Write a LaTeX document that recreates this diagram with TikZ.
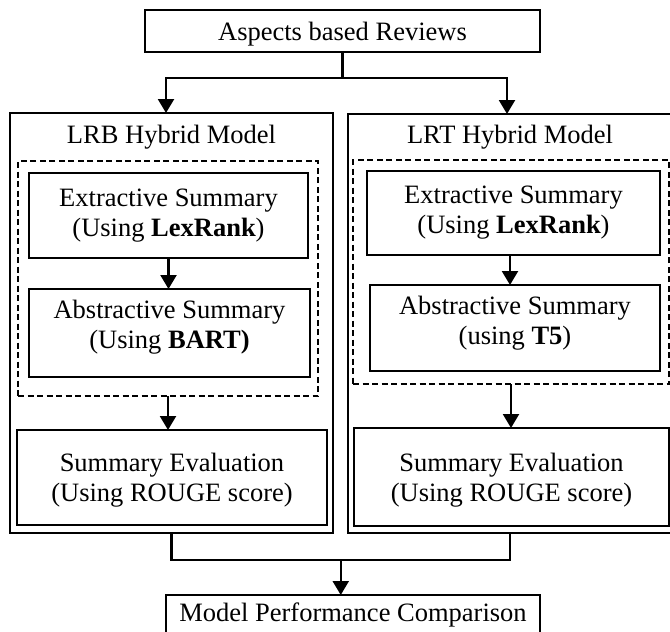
\documentclass[tikz,border=0pt]{standalone}
\usepackage{fontspec}
\setmainfont{Liberation Serif}
\usetikzlibrary{arrows.meta, positioning}

\tikzset{
  block/.style={draw, line width=2.6pt, align=center, inner sep=0pt, outer sep=0pt},
  model/.style={draw, line width=2.3pt, inner sep=0pt, outer sep=0pt},
  group/.style={draw, line width=2pt, dash pattern=on 6pt off 3.5pt, inner sep=0pt, outer sep=0pt},
  link/.style={line width=2.2pt},
}

\begin{document}
\begin{tikzpicture}[x=1pt, y=-1pt, >={Triangle[width=16pt,length=14pt]},
    font=\fontsize{26.5}{30}\selectfont]
  \useasboundingbox (0,0) rectangle (670,632);

  % input and final comparison
  \node[block, minimum width=395pt, minimum height=42pt, text depth=0pt] (rev) at (342.5,31) {Aspects based Reviews};
  \node[block, minimum width=374pt, minimum height=40pt] (cmp) at (353,615) {Model Performance Comparison};

  % the two hybrid models
  \node[model, minimum width=323pt, minimum height=420pt] (lrb) at (171.5,323) {};
  \node[model, minimum width=324pt, minimum height=419pt] (lrt) at (510,323.5) {};
  \node[anchor=base] (lrbtitle) at (171.5,143) {LRB Hybrid Model};
  \node[anchor=base] (lrttitle) at (510,143) {LRT Hybrid Model};

  % LexRank + BART
  \node[group, minimum width=300pt, minimum height=235pt] (lgrp) at (168,278.5) {};
  \node[block, minimum width=279pt, minimum height=85pt] (lext) at (168.5,215.5) {Extractive Summary\\(Using \textbf{LexRank})};
  \node[block, minimum width=281pt, minimum height=88pt, text depth=17pt] (labs) at (169.5,333) {Abstractive Summary\\(Using \textbf{BART)}};
  \node[block, minimum width=310pt, minimum height=95pt, text depth=-2pt] (leval) at (172,477.5) {Summary Evaluation\\(Using ROUGE score)};

  % LexRank + T5
  \node[group, minimum width=316pt, minimum height=224pt] (rgrp) at (511,272) {};
  \node[block, minimum width=293pt, minimum height=84pt] (rext) at (513.5,213) {Extractive Summary\\(Using \textbf{LexRank})};
  \node[block, minimum width=290pt, minimum height=86pt, text depth=16pt] (rabs) at (515,328) {Abstractive Summary\\(using \textbf{T5})};
  \node[block, minimum width=315pt, minimum height=98pt, text depth=-2pt] (reval) at (511.5,477) {Summary Evaluation\\(Using ROUGE score)};

  \draw[link, ->] (rev.south) -- ++(0,26) -| ([xshift=-5.5pt]lrb.north);
  \draw[link, ->] (rev.south) -- ++(0,26) -| ([xshift=-3pt]lrt.north);

  \draw[link, ->] (lext.south) -- (lext.south |- labs.north);
  \draw[link, ->] (lgrp.south) -- (lgrp.south |- leval.north);
  \draw[link, ->] ([xshift=-3.5pt]rext.south) -- ([xshift=-3.5pt]rext.south |- rabs.north);
  \draw[link, ->] (rgrp.south) -- (rgrp.south |- reval.north);

  \draw[link] (lrb.south) -- ++(0,27) -| (lrt.south) coordinate[pos=0.25] (merge);
  \draw[link, ->] (merge) -- (merge |- cmp.north);
\end{tikzpicture}
\end{document}
